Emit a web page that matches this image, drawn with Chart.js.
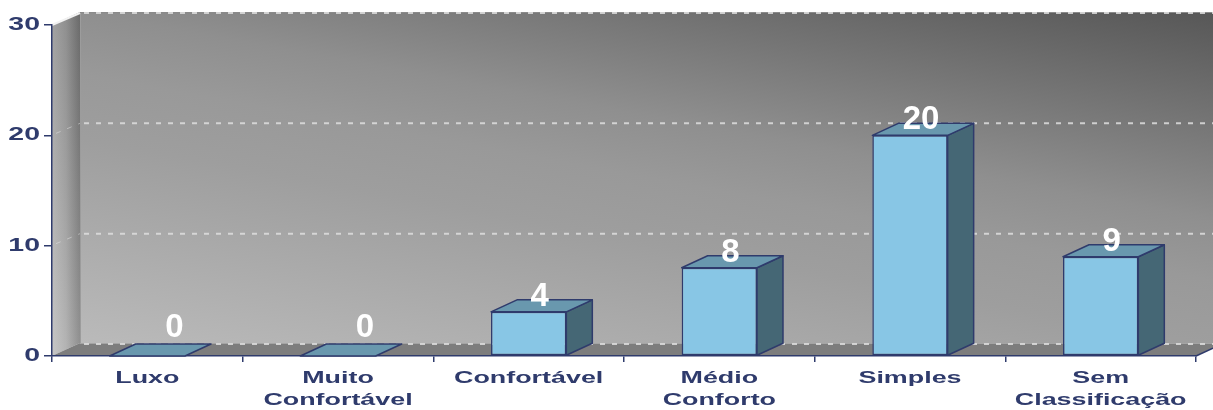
<!DOCTYPE html>
<html>
<head>
<meta charset="utf-8">
<title>Classificação</title>
<script src="https://cdn.jsdelivr.net/npm/chart.js@4/dist/chart.umd.min.js"></script>
<style>
  html, body { margin: 0; padding: 0; background: #ffffff; }
  #wrap { width: 1213px; height: 410px; }
</style>
</head>
<body>
<div id="wrap"><canvas id="chart" width="1213" height="410"></canvas></div>
<script>
// Categories (multi-line labels as arrays)
const categories = ['Luxo', ['Muito', 'Confortável'], 'Confortável', ['Médio', 'Conforto'], 'Simples', ['Sem', 'Classificação']];
// Number of establishments per category
const values = [0, 0, 4, 8, 20, 9];
// Value-axis ticks
const yTicks = [0, 10, 20, 30];

const NAVY = '#2f3b6c';
const WALL_DX = 28, WALL_DY = 13;   // depth of walls / floor
const BAR_DX = 26, BAR_DY = 12;     // depth of each column
const AXIS_TEXT_STRETCH = 1.58;     // horizontally widened axis lettering

const canvas = document.getElementById('chart');
const ctx2d = canvas.getContext('2d');
const baseFillText = CanvasRenderingContext2D.prototype.fillText;
ctx2d.textStretch = 1;
ctx2d.fillText = function (text, x, y, maxWidth) {
  if (this.textStretch !== 1) {
    this.save();
    this.translate(x, y);
    this.scale(this.textStretch, 1);
    baseFillText.call(this, text, 0, 0);
    this.restore();
  } else if (maxWidth === undefined) {
    baseFillText.call(this, text, x, y);
  } else {
    baseFillText.call(this, text, x, y, maxWidth);
  }
};

const scene3d = {
  id: 'scene3d',
  beforeDraw(chart) {
    const { ctx, chartArea: ca, scales: { y } } = chart;
    const W = chart.width;
    const wl = ca.left + WALL_DX, wt = ca.top - WALL_DY, wb = ca.bottom - WALL_DY;
    ctx.save();

    // back wall: dark upper-right corner fading to light lower-left
    const g = ctx.createLinearGradient(wl + 37, wt - 200, wl - 58, wt + 320);
    g.addColorStop(0, '#575757');
    g.addColorStop(0.385, '#8f8f8f');
    g.addColorStop(0.5, '#999999');
    g.addColorStop(0.62, '#9e9e9e');
    g.addColorStop(1, '#bababa');
    ctx.fillStyle = g;
    ctx.fillRect(wl, wt, W - wl, wb - wt);

    // left side wall
    ctx.beginPath();
    ctx.moveTo(ca.left, ca.top);
    ctx.lineTo(wl, wt);
    ctx.lineTo(wl, wb);
    ctx.lineTo(ca.left, ca.bottom);
    ctx.closePath();
    const gs = ctx.createLinearGradient(ca.left, 0, wl, 0);
    gs.addColorStop(0, '#bcbcbc');
    gs.addColorStop(0.5, '#a6a6a6');
    gs.addColorStop(1, '#7c7c7c');
    ctx.fillStyle = gs;
    ctx.fill();
    const gv = ctx.createLinearGradient(0, wt, 0, ca.bottom);
    gv.addColorStop(0, 'rgba(0,0,0,0.14)');
    gv.addColorStop(1, 'rgba(255,255,255,0.16)');
    ctx.fillStyle = gv;
    ctx.fill();

    // floor
    ctx.beginPath();
    ctx.moveTo(ca.left, ca.bottom);
    ctx.lineTo(wl, wb);
    ctx.lineTo(ca.right + WALL_DX, wb);
    ctx.lineTo(ca.right, ca.bottom);
    ctx.closePath();
    ctx.fillStyle = '#7d7d7d';
    ctx.fill();

    // wall edges
    ctx.lineWidth = 1;
    ctx.strokeStyle = '#9c9c9c';
    ctx.beginPath();
    ctx.moveTo(wl + 0.5, wt);
    ctx.lineTo(wl + 0.5, wb);
    ctx.stroke();
    ctx.strokeStyle = '#8a8a8a';
    ctx.beginPath();
    ctx.moveTo(wl, wt + 0.5);
    ctx.lineTo(W, wt + 0.5);
    ctx.stroke();
    ctx.strokeStyle = '#a4a4a4';
    ctx.beginPath();
    ctx.moveTo(wl, wb + 0.5);
    ctx.lineTo(ca.right + WALL_DX, wb + 0.5);
    ctx.stroke();

    // dashed gridlines on the back wall and faint ones on the side wall
    ctx.setLineDash([5, 7]);
    yTicks.forEach(v => {
      const yf = y.getPixelForValue(v);
      const yb = yf - WALL_DY;
      ctx.lineWidth = 2;
      ctx.strokeStyle = 'rgba(222,222,222,0.85)';
      ctx.beginPath();
      ctx.moveTo(wl + 4, yb + 1);
      ctx.lineTo(W, yb + 1);
      ctx.stroke();
      if (v !== yTicks[0] && v !== yTicks[yTicks.length - 1]) {
        ctx.lineWidth = 1;
        ctx.strokeStyle = 'rgba(235,235,235,0.45)';
        ctx.beginPath();
        ctx.moveTo(ca.left + 4, yf - 2);
        ctx.lineTo(wl, yb + 1);
        ctx.stroke();
      }
    });
    ctx.setLineDash([]);

    // light top edge of the side wall
    ctx.strokeStyle = '#f2f2f2';
    ctx.lineWidth = 2;
    ctx.beginPath();
    ctx.moveTo(ca.left, ca.top);
    ctx.lineTo(wl, wt + 1);
    ctx.stroke();

    ctx.restore();
    // axis lettering is drawn widened
    ctx.textStretch = AXIS_TEXT_STRETCH;
  },
  afterDatasetsDraw(chart) {
    const { ctx } = chart;
    ctx.textStretch = 1;
    ctx.save();
    const meta = chart.getDatasetMeta(0);
    meta.data.forEach(el => {
      const { x, y, base, width } = el.getProps(['x', 'y', 'base', 'width'], true);
      const l = x - width / 2, r = x + width / 2;
      ctx.lineWidth = 1.5;
      ctx.strokeStyle = NAVY;
      ctx.lineJoin = 'round';
      // right side face
      if (base - y > 0.5) {
        ctx.beginPath();
        ctx.moveTo(r, y);
        ctx.lineTo(r + BAR_DX, y - BAR_DY);
        ctx.lineTo(r + BAR_DX, base - BAR_DY);
        ctx.lineTo(r, base);
        ctx.closePath();
        ctx.fillStyle = '#456775';
        ctx.fill();
        ctx.stroke();
      }
      // top face
      ctx.beginPath();
      ctx.moveTo(l, y);
      ctx.lineTo(l + BAR_DX, y - BAR_DY);
      ctx.lineTo(r + BAR_DX, y - BAR_DY);
      ctx.lineTo(r, y);
      ctx.closePath();
      ctx.fillStyle = '#6998ae';
      ctx.fill();
      ctx.stroke();
    });
    ctx.restore();
  },
  afterDraw(chart) {
    const { ctx, chartArea: ca } = chart;
    const W = chart.width;
    ctx.textStretch = 1;
    ctx.save();
    // axis line continues along the floor edge
    ctx.strokeStyle = NAVY;
    ctx.lineWidth = 1.5;
    ctx.beginPath();
    ctx.moveTo(ca.right, ca.bottom);
    ctx.lineTo(W, ca.bottom - WALL_DY * (W - ca.right) / WALL_DX);
    ctx.stroke();

    // value labels
    const meta = chart.getDatasetMeta(0);
    ctx.fillStyle = '#ffffff';
    ctx.font = 'bold 33px "Liberation Sans", Arial, sans-serif';
    ctx.textAlign = 'center';
    ctx.textBaseline = 'alphabetic';
    meta.data.forEach((el, i) => {
      const v = values[i];
      const { x, y, base } = el.getProps(['x', 'y', 'base'], true);
      const lx = v === 0 ? x + BAR_DX + 1 : x + 11;
      const ly = v === 0 ? base - 19 : Math.min(y - 6, base - 19);
      ctx.fillText(String(v), lx, ly);
    });
    ctx.restore();
  }
};

new Chart(canvas, {
  type: 'bar',
  data: {
    labels: categories,
    datasets: [{
      data: values,
      backgroundColor: '#88c6e5',
      borderColor: NAVY,
      borderWidth: 1.5,
      borderSkipped: false,
      barPercentage: 0.395,
      categoryPercentage: 1.0
    }]
  },
  options: {
    responsive: false,
    devicePixelRatio: 1,
    animation: false,
    layout: { padding: { top: 25, right: 17, left: 0, bottom: 0 } },
    plugins: {
      legend: { display: false },
      tooltip: { enabled: false },
      title: { display: false }
    },
    scales: {
      x: {
        offset: true,
        grid: {
          display: true,
          offset: true,
          drawOnChartArea: false,
          drawTicks: true,
          tickLength: 6,
          color: NAVY,
          lineWidth: 1.5
        },
        border: { display: true, color: NAVY, width: 1.5 },
        ticks: {
          autoSkip: false,
          maxRotation: 0,
          minRotation: 0,
          padding: 5,
          color: NAVY,
          font: { family: '"Liberation Sans", Arial, sans-serif', weight: 'bold', size: 17, lineHeight: 1.3 }
        },
        afterFit(scale) { scale.height = 54; }
      },
      y: {
        min: yTicks[0],
        max: yTicks[yTicks.length - 1],
        afterBuildTicks(scale) { scale.ticks = yTicks.map(v => ({ value: v })); },
        grid: {
          display: true,
          drawOnChartArea: false,
          drawTicks: true,
          tickLength: 8,
          color: NAVY,
          lineWidth: 1.5
        },
        border: { display: true, color: NAVY, width: 1.5 },
        ticks: {
          padding: 4,
          color: NAVY,
          font: { family: '"Liberation Sans", Arial, sans-serif', weight: 'bold', size: 18 }
        },
        afterFit(scale) { scale.width = 52; }
      }
    }
  },
  plugins: [scene3d]
});
</script>
</body>
</html>
